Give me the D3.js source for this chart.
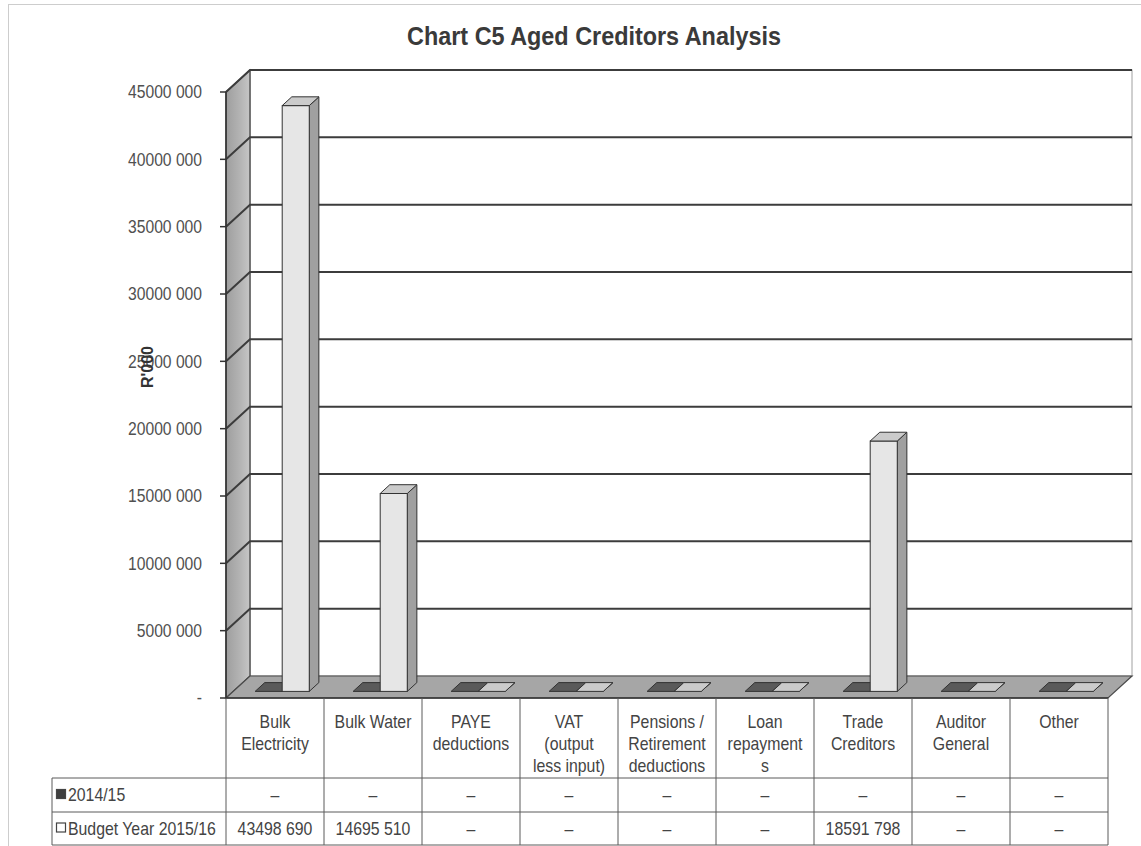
<!DOCTYPE html>
<html>
<head>
<meta charset="utf-8">
<script src="https://cdn.jsdelivr.net/npm/d3@7"></script>
<style>
  html, body { margin: 0; padding: 0; background: #ffffff; }
  svg { display: block; }
  text { font-family: 'Liberation Sans Narrow', 'Arial Narrow', 'Liberation Sans', sans-serif; }
</style>
</head>
<body>
<svg id="chart" width="1141" height="846"></svg>
<script>
// ---- data ----
const categories = [
  ["Bulk", "Electricity"],
  ["Bulk Water"],
  ["PAYE", "deductions"],
  ["VAT", "(output", "less input)"],
  ["Pensions /", "Retirement", "deductions"],
  ["Loan", "repayment", "s"],
  ["Trade", "Creditors"],
  ["Auditor", "General"],
  ["Other"]
];
const seriesNames = ["2014/15", "Budget Year 2015/16"];
const values2014 = [0, 0, 0, 0, 0, 0, 0, 0, 0];
const valuesBudget = [43498690, 14695510, 0, 0, 0, 0, 18591798, 0, 0];
const labels2014 = ["–", "–", "–", "–", "–", "–", "–", "–", "–"];
const labelsBudget = ["43498 690", "14695 510", "–", "–", "–", "–", "18591 798", "–", "–"];
const tickValues = [0, 5000000, 10000000, 15000000, 20000000, 25000000, 30000000, 35000000, 40000000, 45000000];
const tickLabels = ["-", "5000 000", "10000 000", "15000 000", "20000 000", "25000 000", "30000 000", "35000 000", "40000 000", "45000 000"];

// ---- layout ----
const svg = d3.select("#chart");
const left = 226, right = 1108;
const DX = 24, DY = -22;            // depth offset of the back wall
const zFront = 0.3, zBack = 0.7;    // bars occupy the middle of the floor depth

const x = d3.scaleBand().domain(d3.range(categories.length)).range([left, right]).paddingInner(0).paddingOuter(0);
const xs = d3.scaleBand().domain(seriesNames).range([0, x.bandwidth()]).paddingInner(0).paddingOuter(0.81);
const y = d3.scaleLinear().domain([0, 45000000]).range([698, 92]);

// condensed text: a normal face squeezed horizontally around its anchor point
function narrowText(parent, px, py, str, opts) {
  const o = Object.assign({ size: 18, squeeze: 0.87, anchor: "start", weight: "normal", fill: "#444", dy: null }, opts || {});
  const g = parent.append("g").attr("transform", `translate(${px},${py}) scale(${o.squeeze},1)`);
  const t = g.append("text").attr("x", 0).attr("y", 0)
    .attr("text-anchor", o.anchor).attr("font-size", o.size)
    .attr("font-weight", o.weight).attr("fill", o.fill).text(str);
  if (o.dy) t.attr("dy", o.dy);
  return t;
}

// outer chart frame
svg.append("rect").attr("x", 8.5).attr("y", 4.5).attr("width", 1140).attr("height", 860)
  .attr("fill", "none").attr("stroke", "#9a9a9a").attr("stroke-dasharray", "1,1");

// title
narrowText(svg, 594, 45, "Chart C5 Aged Creditors Analysis",
  { size: 26, squeeze: 0.9, anchor: "middle", weight: "bold", fill: "#3a3a3a" });

// gradient for the side wall
const defs = svg.append("defs");
const g1 = defs.append("linearGradient").attr("id", "wall").attr("x1", "0").attr("x2", "1").attr("y1", "0").attr("y2", "0");
g1.append("stop").attr("offset", "0").attr("stop-color", "#9e9e9e");
g1.append("stop").attr("offset", "0.6").attr("stop-color", "#b4b4b4");
g1.append("stop").attr("offset", "1").attr("stop-color", "#c6c6c6");

const y0 = y(0), yTop = y(45000000);
const line = d3.line();

// back wall
svg.append("rect").attr("x", left + DX).attr("y", yTop + DY)
  .attr("width", right - left).attr("height", y0 - yTop)
  .attr("fill", "#ffffff").attr("stroke", "#a0a0a0").attr("stroke-width", 1);

// side wall
svg.append("path")
  .attr("d", line([[left, yTop], [left + DX, yTop + DY], [left + DX, y0 + DY], [left, y0]]) + "Z")
  .attr("fill", "url(#wall)").attr("stroke", "#3a3a3a").attr("stroke-width", 1.2);

// gridlines on side and back walls
const grid = svg.append("g");
tickValues.filter(v => v > 0).forEach(v => {
  const yy = y(v);
  grid.append("path")
    .attr("d", line([[left, yy], [left + DX, yy + DY], [right + DX, yy + DY]]))
    .attr("fill", "none").attr("stroke", "#3c3c3c").attr("stroke-width", 2);
});

// floor
svg.append("path")
  .attr("d", line([[left, y0], [left + DX, y0 + DY], [right + DX, y0 + DY], [right, y0]]) + "Z")
  .attr("fill", "#a6a6a6").attr("stroke", "#4a4a4a").attr("stroke-width", 1.2);

// y axis line, ticks and labels
const axisG = svg.append("g");
axisG.append("line").attr("x1", left).attr("x2", left).attr("y1", yTop).attr("y2", y0)
  .attr("stroke", "#333").attr("stroke-width", 1.5);
tickValues.forEach((v, i) => {
  axisG.append("line").attr("x1", left - 6).attr("x2", left).attr("y1", y(v)).attr("y2", y(v))
    .attr("stroke", "#333").attr("stroke-width", 1.5);
  narrowText(axisG, 202, y(v), tickLabels[i],
    { size: 18, squeeze: 0.87, anchor: "end", fill: "#505050", dy: "0.35em" });
});

// y axis title
svg.append("text").attr("transform", "translate(153,367) rotate(-90)")
  .attr("text-anchor", "middle").attr("font-size", 16).attr("font-weight", "bold").attr("fill", "#333")
  .text("R'000");

// 3D bars
const seriesStyle = [
  { front: "#3e3e3e", top: "#5a5a5a", side: "#2e2e2e" },
  { front: "#e6e6e6", top: "#cbcbcb", side: "#a0a0a0" }
];
const barsG = svg.append("g");
function drawBar(x0, x1, v, st) {
  const ox = zFront * DX, oy = zFront * DY;
  const dx = (zBack - zFront) * DX, dy = (zBack - zFront) * DY;
  const fx0 = x0 + ox, fx1 = x1 + ox;
  const ft = y(v) + oy, fb = y(0) + oy;
  // side face
  barsG.append("path")
    .attr("d", line([[fx1, ft], [fx1 + dx, ft + dy], [fx1 + dx, fb + dy], [fx1, fb]]) + "Z")
    .attr("fill", st.side).attr("stroke", "#333").attr("stroke-width", 1);
  // front face
  if (fb - ft > 0.5) {
    barsG.append("rect").attr("x", fx0).attr("y", ft).attr("width", fx1 - fx0).attr("height", fb - ft)
      .attr("fill", st.front).attr("stroke", "#333").attr("stroke-width", 1);
  }
  // top face
  barsG.append("path")
    .attr("d", line([[fx0, ft], [fx1, ft], [fx1 + dx, ft + dy], [fx0 + dx, ft + dy]]) + "Z")
    .attr("fill", st.top).attr("stroke", "#333").attr("stroke-width", 1);
}
const seriesValues = [values2014, valuesBudget];
categories.forEach((c, i) => {
  seriesNames.forEach((s, j) => {
    const bx = x(i) + xs(s);
    drawBar(bx, bx + xs.bandwidth(), seriesValues[j][i], seriesStyle[j]);
  });
});

// data table
const tbl = svg.append("g");
const tableLeft = 52, rHead = 778, r1 = 812, r2 = 845;
const stroke = "#5a5a5a";
// horizontal rules
tbl.append("line").attr("x1", left).attr("x2", right).attr("y1", y0).attr("y2", y0).attr("stroke", "#333").attr("stroke-width", 1.5);
[rHead, r1, r2].forEach(yy => {
  tbl.append("line").attr("x1", tableLeft).attr("x2", right).attr("y1", yy).attr("y2", yy)
    .attr("stroke", stroke).attr("stroke-width", 1);
});
// vertical rules
tbl.append("line").attr("x1", tableLeft).attr("x2", tableLeft).attr("y1", rHead).attr("y2", r2).attr("stroke", stroke);
d3.range(categories.length + 1).forEach(i => {
  const xx = i < categories.length ? x(i) : right;
  tbl.append("line").attr("x1", xx).attr("x2", xx).attr("y1", y0).attr("y2", r2).attr("stroke", stroke);
});
// category headers
categories.forEach((c, i) => {
  c.forEach((ln, k) => narrowText(tbl, x(i) + x.bandwidth() / 2, 728 + k * 22, ln,
    { size: 18, squeeze: 0.88, anchor: "middle", fill: "#444" }));
});
// value rows
[labels2014, labelsBudget].forEach((row, j) => {
  const cy = j === 0 ? (rHead + r1) / 2 : (r1 + r2) / 2;
  row.forEach((lab, i) => {
    narrowText(tbl, x(i) + x.bandwidth() / 2, cy, lab,
      { size: 18, squeeze: 0.88, anchor: "middle", fill: "#444", dy: "0.35em" });
  });
  // legend key
  tbl.append("rect").attr("x", 56.5).attr("y", cy - 5.5).attr("width", 9).attr("height", 9)
    .attr("fill", j === 0 ? "#3e3e3e" : "#ffffff").attr("stroke", "#444").attr("stroke-width", 1.2);
  narrowText(tbl, 68, cy, seriesNames[j], { size: 18, squeeze: 0.88, fill: "#444", dy: "0.35em" });
});
</script>
</body>
</html>
